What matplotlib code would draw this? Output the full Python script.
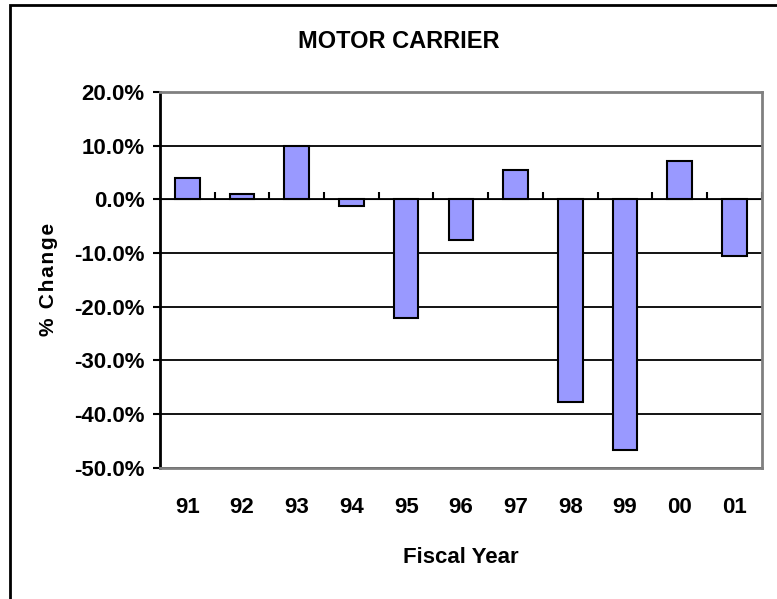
import numpy as np
import matplotlib
matplotlib.use("Agg")
import matplotlib.pyplot as plt
from matplotlib.patches import Rectangle
from matplotlib.ticker import FuncFormatter

years = ["91", "92", "93", "94", "95", "96", "97", "98", "99", "00", "01"]
pct_change = [4.0, 1.0, 10.0, -1.2, -22.1, -7.6, 5.5, -37.8, -46.8, 7.1, -10.6]
y_ticks = [20, 10, 0, -10, -20, -30, -40, -50]

plt.rcParams['font.family'] = ['Liberation Sans', 'DejaVu Sans']
plt.rcParams['font.weight'] = 'bold'

fig = plt.figure(figsize=(7.77, 5.99), dpi=100)
ax = fig.add_axes([0.2059, 0.2195, 0.7744, 0.6269])

x = np.arange(len(years))
ax.bar(x, pct_change, width=0.45, color='#9999ff', edgecolor='black',
       linewidth=1.5, zorder=3)

ax.set_xlim(-0.5, len(years) - 0.5)
ax.set_ylim(-50, 20)
ax.set_yticks(y_ticks)
ax.yaxis.set_major_formatter(FuncFormatter(lambda v, p: f"{v:.1f}%"))
ax.grid(axis='y', color='black', linewidth=1.3, zorder=1)
ax.tick_params(axis='y', direction='out', length=5, width=1.5, pad=6,
               labelsize=16, color='black')

ax.set_xticks(x)
ax.set_xticklabels(years)
ax.tick_params(axis='x', length=0, pad=21, labelsize=16)

for side in ['top', 'right', 'bottom']:
    ax.spines[side].set_color('#808080')
    ax.spines[side].set_linewidth(2)
ax.spines['left'].set_color('black')
ax.spines['left'].set_linewidth(2)

# zero line with category boundary ticks
zero_frac = (0 - (-50)) / (20 - (-50))
zero_ax = ax.secondary_xaxis(zero_frac)
zero_ax.set_xticks(np.append(x[:-1] + 0.5, x[-1] + 0.5))
zero_ax.tick_params(direction='out', length=5, width=1.5, labelbottom=False,
                    labeltop=False, color='black')
zero_ax.spines['bottom'].set_linewidth(2)
zero_ax.spines['bottom'].set_color('black')
zero_ax.spines['bottom'].set_zorder(4)

ax.set_xlabel('Fiscal Year', fontsize=16, fontweight='bold', labelpad=21)
ax.set_ylabel('%\u200a \u200aC\u200ah\u200aa\u200an\u200ag\u200ae',
              fontsize=15, fontweight='bold')
ax.yaxis.set_label_coords(-0.1695, 0.5)

fig.text(399 / 777, 1 - 42 / 599, 'MOTOR CARRIER', ha='center', va='center',
         fontsize=17, fontweight='bold')

fig.patches.append(Rectangle((10 / 777, -0.2), 1.5, 1.2 - 5 / 599,
                             transform=fig.transFigure, fill=False,
                             edgecolor='black', linewidth=2))

fig.savefig('out.png', dpi=100)
